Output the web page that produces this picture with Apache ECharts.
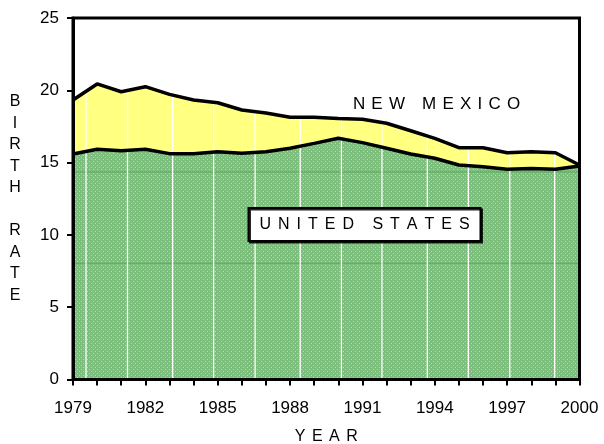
<!DOCTYPE html>
<html>
<head>
<meta charset="utf-8">
<script src="https://cdn.jsdelivr.net/npm/echarts@6/dist/echarts.min.js"></script>
<style>
html,body{margin:0;padding:0;background:#fff;}
#chart{width:604px;height:444px;}
</style>
</head>
<body>
<div id="chart"></div>
<script>
// ---- data ----
const years = ['1979','1980','1981','1982','1983','1984','1985','1986','1987','1988','1989',
               '1990','1991','1992','1993','1994','1995','1996','1997','1998','1999','2000'];
const newMexico = [19.33, 20.44, 19.9, 20.25, 19.72, 19.33, 19.14, 18.64, 18.43, 18.13, 18.13,
                   18.05, 18.0, 17.72, 17.2, 16.68, 16.03, 16.03, 15.68, 15.75, 15.68, 14.83];
const unitedStates = [15.6, 15.92, 15.82, 15.92, 15.62, 15.62, 15.75, 15.64, 15.75, 15.99, 16.33,
                      16.68, 16.38, 15.99, 15.6, 15.3, 14.83, 14.72, 14.54, 14.6, 14.54, 14.76];
const yMin = 0, yMax = 25, yStep = 5;
const seriesNames = ['NEW MEXICO', 'UNITED STATES'];
const xTitle = 'YEAR';
const yTitle = 'BIRTH RATE';
// decorative background grid lines seen in the original fills (year offsets / rate values)
const decorVertical = [0.54, 2.26, 4.13, 5.83, 7.55, 9.42, 11.13, 12.81, 14.69, 16.39, 18.11, 19.97];
const decorHorizontal = [8.04, 14.35];

// ---- helpers ----
const FONT = 'Liberation Sans, Arial, Helvetica, sans-serif';
function dotPattern(base, dot) {
  const c = document.createElement('canvas');
  c.width = 4; c.height = 4;
  const g = c.getContext('2d');
  g.fillStyle = base; g.fillRect(0, 0, 4, 4);
  g.fillStyle = dot; g.fillRect(1, 1, 1, 1); g.fillRect(3, 3, 1, 1);
  return c;
}
function spaced(str) {
  return str.split('').map(ch => '{l|' + ch + '}').join('');
}
function richL(size, gap) {
  return { l: { fontSize: size, fontFamily: FONT, color: '#000', padding: [0, gap / 2] } };
}

const yellowFill = { image: dotPattern('#ffff80', '#ffffc4'), repeat: 'repeat' };
const greenFill = { image: dotPattern('#7cbf7c', '#b9dfb9'), repeat: 'repeat' };

const chart = echarts.init(document.getElementById('chart'), null, { renderer: 'canvas' });

const option = {
  animation: false,
  backgroundColor: '#fff',
  grid: {
    left: 73, right: 24.5, top: 18, bottom: 64.5,
    containLabel: false, outerBoundsMode: 'none',
    show: true, borderColor: '#000', borderWidth: 3, backgroundColor: 'transparent', z: 10
  },
  xAxis: [{
    type: 'category', data: years, boundaryGap: false, z: 10,
    axisLine: { lineStyle: { color: '#000', width: 3 } },
    axisTick: { show: true, interval: 0, length: 6, lineStyle: { color: '#000', width: 2 } },
    axisLabel: { interval: 2, fontSize: 17, fontFamily: FONT, color: '#000', margin: 20 },
    splitLine: { show: false },
    name: spaced(xTitle), nameLocation: 'middle', nameGap: 57.5,
    nameTextStyle: { rich: richL(16, 6.5), align: 'center', verticalAlign: 'middle' }
  }, {
    type: 'value', min: 0, max: years.length - 1, show: false
  }],
  yAxis: {
    type: 'value', min: yMin, max: yMax, interval: yStep, z: 10,
    axisLine: { show: true, lineStyle: { color: '#000', width: 3 } },
    axisTick: { show: true, length: 6, lineStyle: { color: '#000', width: 2 } },
    axisLabel: { fontSize: 17, fontFamily: FONT, color: '#000', margin: 14 },
    splitLine: { show: false },
    name: yTitle.split(' ').map(w => w.split('').join('\n')).join('\n\n'),
    nameLocation: 'middle', nameRotate: 0, nameGap: 58,
    nameTextStyle: { fontSize: 16, fontFamily: FONT, color: '#000', lineHeight: 21.5, align: 'center', verticalAlign: 'middle' }
  },
  series: [
    {
      name: seriesNames[0], type: 'line', data: newMexico, z: 2, silent: true,
      showSymbol: false, lineStyle: { width: 0 },
      areaStyle: { color: yellowFill, opacity: 1 }
    },
    {
      name: seriesNames[1], type: 'line', data: unitedStates, z: 3, silent: true,
      showSymbol: false, lineStyle: { width: 0 },
      areaStyle: { color: greenFill, opacity: 1 }
    },
    {
      type: 'custom', xAxisIndex: 1, z: 4, silent: true,
      data: decorHorizontal.map(v => [v]),
      renderItem: function (params, api) {
        const v = api.value(0);
        const p0 = api.coord([0, v]);
        const p1 = api.coord([years.length - 1, v]);
        return { type: 'line', shape: { x1: p0[0] + 1.5, y1: p0[1], x2: p1[0] - 1.5, y2: p1[1] },
                 style: { stroke: '#5aa65a', lineWidth: 1 } };
      }
    },
    {
      type: 'custom', xAxisIndex: 1, z: 5, silent: true,
      data: decorVertical.map(v => [v]),
      renderItem: function (params, api) {
        const v = api.value(0);
        const p0 = api.coord([v, yMin]);
        const p1 = api.coord([v, yMax]);
        return { type: 'line', shape: { x1: p0[0], y1: p0[1] - 1.5, x2: p1[0], y2: p1[1] + 1.5 },
                 style: { stroke: '#ffffff', lineWidth: 1.3 } };
      }
    },
    {
      type: 'line', data: newMexico, z: 6, silent: true, showSymbol: false,
      lineStyle: { color: '#000', width: 3.5 }
    },
    {
      type: 'line', data: unitedStates, z: 7, silent: true, showSymbol: false,
      lineStyle: { color: '#000', width: 3.5 }
    }
  ],
  graphic: [
    {
      type: 'rect', z: 100,
      shape: { x: 248.5, y: 208, width: 232, height: 33 },
      style: { fill: '#fff', stroke: '#000', lineWidth: 2,
               shadowColor: 'rgba(0,0,0,0.85)', shadowOffsetX: 1.5, shadowOffsetY: 1.5, shadowBlur: 0 }
    },
    {
      type: 'text', z: 101, x: 364.5, y: 224.5,
      style: { text: spaced(seriesNames[1]), rich: richL(16, 7),
               align: 'center', verticalAlign: 'middle', textAlign: 'center', textVerticalAlign: 'middle' }
    },
    {
      type: 'text', z: 101, x: 436.5, y: 104,
      style: { text: spaced(seriesNames[0]), rich: richL(17, 6.2),
               align: 'center', verticalAlign: 'middle', textAlign: 'center', textVerticalAlign: 'middle' }
    }
  ]
};
chart.setOption(option);
</script>
</body>
</html>
